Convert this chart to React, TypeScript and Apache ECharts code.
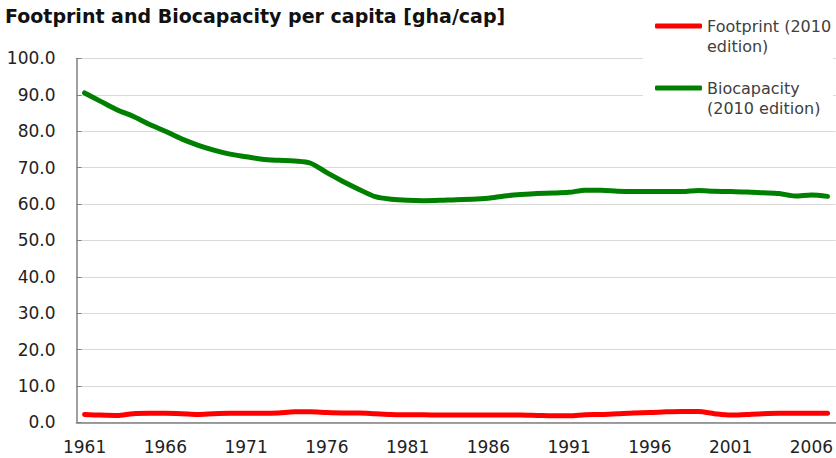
import React, { useEffect, useRef } from "react";
import * as echarts from "echarts";

const years: string[] = [];
for (let y = 1961; y <= 2007; y++) years.push(String(y));

const footprint = [
  2.2, 2.0, 1.9, 2.4, 2.5, 2.5, 2.4, 2.2, 2.4, 2.5,
  2.5, 2.5, 2.6, 2.9, 2.9, 2.7, 2.6, 2.6, 2.4, 2.2,
  2.1, 2.1, 2.0, 2.0, 2.0, 2.0, 2.0, 2.0, 1.9, 1.8,
  1.8, 2.1, 2.2, 2.4, 2.6, 2.7, 2.9, 3.0, 3.0, 2.4,
  2.0, 2.2, 2.4, 2.5, 2.5, 2.5, 2.5,
];

const biocapacity = [
  90.5, 88.2, 85.9, 84.1, 81.9, 80.0, 77.9, 76.2, 74.8, 73.7,
  73.0, 72.3, 72.0, 71.8, 71.2, 68.6, 66.2, 64.0, 62.0, 61.3,
  61.0, 60.9, 61.0, 61.2, 61.3, 61.6, 62.2, 62.6, 62.9, 63.0,
  63.2, 63.8, 63.8, 63.5, 63.4, 63.4, 63.4, 63.4, 63.7, 63.5,
  63.4, 63.3, 63.1, 62.9, 62.2, 62.5, 62.1,
];

const seriesNames = ["Footprint (2010\nedition)", "Biocapacity\n(2010 edition)"];
const title = "Footprint and Biocapacity per capita [gha/cap]";

export default function App() {
  const ref = useRef<HTMLDivElement>(null);
  useEffect(() => {
    if (!ref.current) return;
    const chart = echarts.init(ref.current, undefined, { renderer: "svg" });
    const font = "DejaVu Sans";
    chart.setOption({
      animation: false,
      backgroundColor: "#ffffff",
      title: {
        text: title,
        left: 0,
        top: 1,
        textStyle: { fontFamily: font, fontWeight: "bold", fontSize: 19, color: "#111" },
      },
      legend: {
        orient: "vertical",
        left: 643,
        top: -4,
        padding: [0, 2, 0, 12],
        itemGap: 2,
        itemWidth: 47,
        itemHeight: 5,
        icon: "roundRect",
        backgroundColor: "#ffffff",
        formatter: (name: string) => "\n" + name,
        textStyle: {
          fontFamily: font,
          fontSize: 16,
          color: "#404040",
          lineHeight: 20,
        },
        data: seriesNames,
      },
      grid: { left: 76.5, right: 0, top: 58.4, bottom: 35.6, containLabel: false },
      xAxis: {
        type: "category",
        data: years,
        boundaryGap: true,
        axisLine: { lineStyle: { color: "#808080", width: 1.5 } },
        axisTick: { inside: true, length: 5, interval: 0, lineStyle: { color: "#808080" } },
        axisLabel: {
          interval: 4,
          margin: 16,
          fontFamily: font,
          fontSize: 17,
          color: "#222",
        },
        splitLine: { show: false },
      },
      yAxis: {
        type: "value",
        min: 0,
        max: 100,
        interval: 10,
        axisLine: { show: true, lineStyle: { color: "#808080", width: 1.5 } },
        axisTick: { show: true, inside: true, length: 5, lineStyle: { color: "#808080" } },
        axisLabel: {
          margin: 21,
          fontFamily: font,
          fontSize: 17,
          color: "#222",
          formatter: (v: number) => v.toFixed(1),
        },
        splitLine: { lineStyle: { color: "#d9d9d9", width: 1 } },
      },
      series: [
        {
          name: seriesNames[0],
          type: "line",
          data: footprint,
          showSymbol: false,
          smooth: 0.3,
          lineStyle: { color: "#ff0000", width: 5, cap: "round", join: "round" },
          itemStyle: { color: "#ff0000" },
        },
        {
          name: seriesNames[1],
          type: "line",
          data: biocapacity,
          showSymbol: false,
          smooth: 0.3,
          lineStyle: { color: "#008000", width: 5, cap: "round", join: "round" },
          itemStyle: { color: "#008000" },
        },
      ],
    });
    return () => chart.dispose();
  }, []);
  return <div ref={ref} style={{ width: 836, height: 458, position: "absolute", left: 0, top: 0 }} />;
}
